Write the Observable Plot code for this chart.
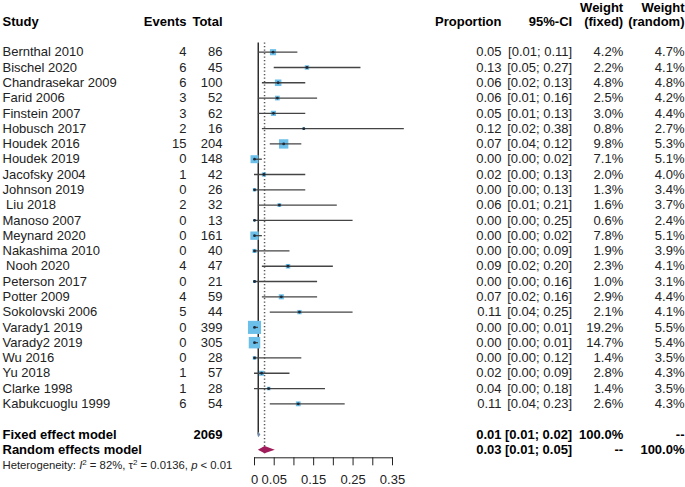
<!DOCTYPE html>
<html><head><meta charset="utf-8">
<script src="https://cdn.jsdelivr.net/npm/d3@7"></script>
<script src="https://cdn.jsdelivr.net/npm/@observablehq/plot@0.6"></script>
<style>
html,body{margin:0;padding:0;background:#fff;}
#chart svg{display:block;}
</style></head><body><div id="chart"></div>
<script>
const studies = ["Bernthal 2010","Bischel 2020","Chandrasekar 2009","Farid 2006","Finstein 2007","Hobusch 2017","Houdek 2016","Houdek 2019","Jacofsky 2004","Johnson 2019","\u00a0Liu 2018","Manoso 2007","Meynard 2020","Nakashima 2010","\u00a0Nooh 2020","Peterson 2017","Potter 2009","Sokolovski 2006","Varady1 2019","Varady2 2019","Wu 2016","Yu 2018","Clarke 1998","Kabukcuoglu 1999"];
const events = [4,6,6,3,3,2,15,0,1,0,2,0,0,0,4,0,4,5,0,0,0,1,1,6];
const totals = [86,45,100,52,62,16,204,148,42,26,32,13,161,40,47,21,59,44,399,305,28,57,28,54];
const proportion = [0.047,0.133,0.06,0.058,0.048,0.125,0.074,0,0.024,0,0.063,0,0,0,0.085,0,0.068,0.114,0,0,0,0.018,0.036,0.111];
const propLabels = ["0.05","0.13","0.06","0.06","0.05","0.12","0.07","0.00","0.02","0.00","0.06","0.00","0.00","0.00","0.09","0.00","0.07","0.11","0.00","0.00","0.00","0.02","0.04","0.11"];
const ciLow = [0.01,0.05,0.02,0.01,0.01,0.02,0.04,0.00,0.00,0.00,0.01,0.00,0.00,0.00,0.02,0.00,0.02,0.04,0.00,0.00,0.00,0.00,0.00,0.04];
const ciHigh = [0.11,0.27,0.13,0.16,0.13,0.38,0.12,0.02,0.13,0.13,0.21,0.25,0.02,0.09,0.20,0.16,0.16,0.25,0.01,0.01,0.12,0.09,0.18,0.23];
const weightFixed = [4.2,2.2,4.8,2.5,3.0,0.8,9.8,7.1,2.0,1.3,1.6,0.6,7.8,1.9,2.3,1.0,2.9,2.1,19.2,14.7,1.4,2.8,1.4,2.6];
const weightRandom = [4.7,4.1,4.8,4.2,4.4,2.7,5.3,5.1,4.0,3.4,3.7,2.4,5.1,3.9,4.1,3.1,4.4,4.1,5.5,5.4,3.5,4.3,3.5,4.3];

const models = ["Fixed effect model","Random effects model"];
const modelTotal = ["2069",""];
const modelEst = [0.0095,0.0255];
const modelLow = [0.007,0.0085];
const modelHigh = [0.015,0.0515];
const modelPropLabels = ["0.01","0.03"];
const modelCiLabels = ["[0.01; 0.02]","[0.01; 0.05]"];
const modelWFixed = ["100.0%","--"];
const modelWRandom = ["--","100.0%"];

const hetI2 = "82%", hetTau2 = "0.0136", hetP = "< 0.01";

const xTicks = [0,0.05,0.10,0.15,0.20,0.25,0.30,0.35];
const xTickLabels = ["0","0.05","","0.15","","0.25","","0.35"];

const f2 = d3.format(".2f");
const rows = studies.map((s,i)=>({
  study:s, events:String(events[i]), total:String(totals[i]), p:proportion[i], pl:propLabels[i],
  lo:ciLow[i], hi:ciHigh[i], ci:`[${f2(ciLow[i])}; ${f2(ciHigh[i])}]`,
  wf:weightFixed[i], wft:weightFixed[i].toFixed(1)+"%", wrt:weightRandom[i].toFixed(1)+"%", row:i
}));
const mrows = models.map((m,j)=>({
  study:m, total:modelTotal[j], pl:modelPropLabels[j], ci:modelCiLabels[j],
  wft:modelWFixed[j], wrt:modelWRandom[j], row:studies.length+1+j
}));
const diamond = (j,h)=>{const r=studies.length+1+j; return [
  {x:modelLow[j],y:r},{x:modelEst[j],y:r-h},{x:modelHigh[j],y:r},{x:modelEst[j],y:r+h},{x:modelLow[j],y:r}];};

const headers = [
  {t:"Study",row:-2,dx:-252,a:"start"},
  {t:"Events",row:-2,dx:-68,a:"end"},
  {t:"Total",row:-2,dx:-32,a:"end"},
  {t:"Proportion",row:-2,dx:247,a:"end"},
  {t:"95%-CI",row:-2,dx:317.7,a:"end"},
  {t:"Weight",row:-2.92,dx:368.7,a:"end"},
  {t:"(fixed)",row:-2,dx:368.7,a:"end"},
  {t:"Weight",row:-2.92,dx:430,a:"end"},
  {t:"(random)",row:-2,dx:430,a:"end"}
];

const labelMap = new Map(xTicks.map((t,i)=>[t,xTickLabels[i]]));
const txt = "#222";
const col = (data, field, dx, anchor, extra={}) => Plot.text(data, {y:"row", text:field, frameAnchor:"left", dx, textAnchor:anchor, fontSize:13, fill:txt, ...extra});

const hetRow = studies.length + 3.02;
const svg = Plot.plot({
  width:685, height:487,
  marginLeft:254, marginRight:293, marginTop:5.83, marginBottom:29.7,
  style:{fontFamily:"'Liberation Sans', Arial, sans-serif", fontSize:"13px", background:"#fff"},
  x:{domain:[0,0.35], axis:null},
  y:{domain:[-3,26.53], reverse:true, axis:null},
  r:{type:"sqrt", domain:[0,19.2], range:[0,7.4]},
  marks:[
    // headers
    ...headers.map(h=>Plot.text([h], {y:"row", text:"t", frameAnchor:"left", dx:h.dx, textAnchor:h.a, fontWeight:"bold", fontSize:13, fill:"#000"})),
    // study rows
    col(rows,"study",-252,"start"),
    col(rows,"events",-68,"end"),
    col(rows,"total",-32,"end"),
    col(rows,"pl",247,"end"),
    col(rows,"ci",317.7,"end"),
    col(rows,"wft",368.7,"end"),
    col(rows,"wrt",430,"end"),
    // model rows
    col(mrows,"study",-252,"start",{fontWeight:"bold",fill:"#000"}),
    col(mrows,"total",-32,"end",{fontWeight:"bold",fill:"#000"}),
    col(mrows,"pl",247,"end",{fontWeight:"bold",fill:"#000"}),
    col(mrows,"ci",317.7,"end",{fontWeight:"bold",fill:"#000"}),
    col(mrows,"wft",368.7,"end",{fontWeight:"bold",fill:"#000"}),
    col(mrows,"wrt",430,"end",{fontWeight:"bold",fill:"#000"}),
    // heterogeneity
    Plot.text([`Heterogeneity: I2 = ${hetI2}, t2 = ${hetTau2}, p ${hetP}`], {y:()=>hetRow, text:d=>d, frameAnchor:"left", dx:-252, textAnchor:"start", fontSize:11.3, fill:txt}),
    // reference lines
    Plot.ruleX([modelEst[0]], {y1:-0.6, y2:studies.length+1, stroke:"#222", strokeWidth:1.4}),
    Plot.ruleX([modelEst[1]], {y1:-0.6, y2:26.4, stroke:"#555", strokeWidth:1.5, strokeDasharray:"1.2,2.3"}),
    // squares and CIs
    Plot.dot(rows, {x:"p", y:"row", r:"wf", symbol:"square", fill:"#6cbfe8", stroke:null}),
    Plot.ruleY(rows, {y:"row", x1:"lo", x2:"hi", stroke:"#444", strokeWidth:1.3}),
    Plot.dot(rows, {x:"p", y:"row", r:1.4, fill:"#1b2a3a", stroke:null}),
    // diamonds
    Plot.line(diamond(0,0.18), {x:"x", y:"y", fill:"#7289a8", stroke:null}),
    Plot.line(diamond(1,0.24), {x:"x", y:"y", fill:"#a01c5a", stroke:null}),
    // axis
    Plot.frame({anchor:"bottom", stroke:"#222"}),
    Plot.axisX(xTicks, {tickSize:8, tickPadding:9, tickFormat:d=>labelMap.get(d), fontSize:13, stroke:"#222", fill:"#222"})
  ]
});
document.getElementById("chart").appendChild(svg);

// rich formatting for heterogeneity line
d3.select(svg).selectAll("text").filter(function(){return this.textContent.startsWith("Heterogeneity");}).each(function(){
  const t = d3.select(this);
  t.text(null);
  t.append("tspan").text("Heterogeneity: ");
  t.append("tspan").attr("font-style","italic").text("I");
  t.append("tspan").attr("font-size","8").attr("dy","-4").text("2");
  t.append("tspan").attr("dy","4").text(` = ${hetI2}, \u03c4`);
  t.append("tspan").attr("font-size","8").attr("dy","-4").text("2");
  t.append("tspan").attr("dy","4").text(` = ${hetTau2}, `);
  t.append("tspan").attr("font-style","italic").text("p");
  t.append("tspan").text(` ${hetP}`);
});
</script>
</body></html>
